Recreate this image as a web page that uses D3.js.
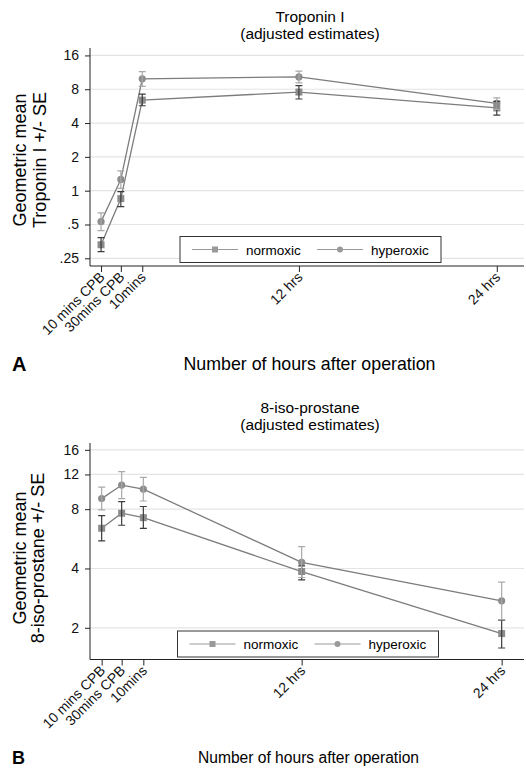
<!DOCTYPE html>
<html>
<head>
<meta charset="utf-8">
<script src="https://cdn.jsdelivr.net/npm/d3@7"></script>
<style>
  body { margin: 0; background: #fff; }
  svg { display: block; font-family: "Liberation Sans", Arial, sans-serif; }
</style>
</head>
<body>
<script>
// time points (x position in hours, roughly as plotted)
let timeLabels = ['10 mins CPB', '30mins CPB', '10mins', '12 hrs', '24 hrs']
let timePos = [0, 1.2, 2.5, 12, 24]

// Troponin I, geometric means and +/- SE bounds
let tropNormoxic = [0.33, 0.85, 6.4, 7.55, 5.45]
let tropNormoxicLo = [0.287, 0.72, 5.7, 6.55, 4.7]
let tropNormoxicHi = [0.382, 0.98, 7.25, 8.6, 6.25]
let tropHyperoxic = [0.53, 1.26, 9.9, 10.3, 6.0]
let tropHyperoxicLo = [0.44, 1.05, 8.5, 9.1, 5.3]
let tropHyperoxicHi = [0.634, 1.5, 11.5, 11.6, 6.7]
let tropTicks = [0.25, 0.5, 1, 2, 4, 8, 16]

// 8-iso-prostane
let isoNormoxic = [6.4, 7.63, 7.24, 3.86, 1.87]
let isoNormoxicLo = [5.52, 6.63, 6.39, 3.5, 1.58]
let isoNormoxicHi = [7.42, 8.74, 8.25, 4.12, 2.19]
let isoHyperoxic = [9.05, 10.6, 10.1, 4.3, 2.74]
let isoHyperoxicLo = [7.93, 9.05, 8.8, 3.6, 2.2]
let isoHyperoxicHi = [10.35, 12.4, 11.6, 5.16, 3.41]
let isoTicks = [2, 4, 8, 12, 16]

let width = 526, height = 771
let svg = d3.select('body').append('svg').attr('width', width).attr('height', height)

function zip(vals, lo, hi) {
  return vals.map((v, i) => ({ t: timePos[i], v: v, lo: lo[i], hi: hi[i] }))
}

function fmtTick(d) {
  return d < 1 ? String(d).replace(/^0/, '') : String(d)
}

function drawPanel(p) {
  let left = 90, right = 524
  let x = d3.scaleLinear().domain(p.xDomain).range([left, right])
  let y = d3.scaleLog().base(2).domain(p.yDomain).range([p.bottom, p.top])

  let g = svg.append('g')

  // titles
  g.append('text').attr('x', 310).attr('y', p.titleY).attr('text-anchor', 'middle')
    .style('font-size', '15.5px').text(p.title)
  g.append('text').attr('x', 310).attr('y', p.titleY + 17).attr('text-anchor', 'middle')
    .style('font-size', '15.5px').text('(adjusted estimates)')

  // gridlines
  g.selectAll('.grid').data(p.ticks).enter().append('line')
    .attr('x1', left).attr('x2', right)
    .attr('y1', d => y(d)).attr('y2', d => y(d))
    .attr('stroke', '#e4e4e4').attr('stroke-width', 1.2)

  // y axis
  let ya = g.append('g').attr('transform', `translate(${left},0)`)
    .call(d3.axisLeft(y).tickValues(p.ticks).tickFormat(fmtTick).tickSize(5).tickPadding(6))
  ya.select('.domain').attr('d', `M0,${p.top}V${p.bottom}`).attr('stroke', '#222')
  ya.selectAll('.tick line').attr('stroke', '#222')
  ya.selectAll('.tick text').style('font-size', '14px').attr('fill', '#111')
  ya.attr('font-family', null)

  // x axis
  let xa = g.append('g').attr('transform', `translate(0,${p.bottom})`)
    .call(d3.axisBottom(x).tickValues(timePos).tickFormat((d, i) => timeLabels[i]).tickSize(6))
  xa.select('.domain').attr('d', `M${left},0H${right}`).attr('stroke', '#222')
  xa.selectAll('.tick line').attr('stroke', '#222')
  xa.attr('font-family', null)
  xa.selectAll('.tick text')
    .style('font-size', '14px').attr('fill', '#111')
    .attr('text-anchor', 'end').attr('dy', null)
    .attr('transform', 'translate(4,12) rotate(-45)')
    .attr('y', 0).attr('x', 0)

  // y label
  let ycy = p.yLabelY
  g.append('text').attr('transform', `translate(${p.yLabelX[0]},${ycy}) rotate(-90)`)
    .attr('text-anchor', 'middle').style('font-size', '18px').text('Geometric mean')
  g.append('text').attr('transform', `translate(${p.yLabelX[1]},${ycy}) rotate(-90)`)
    .attr('text-anchor', 'middle').style('font-size', '18px').text(p.yLabel)

  // x title and panel letter
  g.append('text').attr('x', p.xTitleX).attr('y', p.xTitleY).attr('text-anchor', 'middle')
    .style('font-size', p.xTitleSize + 'px').text('Number of hours after operation')
  g.append('text').attr('x', 12).attr('y', p.xTitleY + 1).style('font-size', p.letterSize + 'px')
    .style('font-weight', 'bold').text(p.letter)

  let line = d3.line().x(d => x(d.t)).y(d => y(d.v))

  p.series.forEach(s => {
    g.append('path').datum(s.data).attr('d', line)
      .attr('fill', 'none').attr('stroke', '#7c7c7c').attr('stroke-width', 1.3)
  })

  p.series.forEach(s => {
    let m = g.selectAll(null).data(s.data).enter()
    if (s.shape === 'square') {
      m.append('rect').attr('x', d => x(d.t) - 3.5).attr('y', d => y(d.v) - 3.5)
        .attr('width', 7).attr('height', 7).attr('fill', '#8c8c8c')
    } else {
      m.append('circle').attr('cx', d => x(d.t)).attr('cy', d => y(d.v))
        .attr('r', 3.6).attr('fill', '#8c8c8c')
    }
  })

  // error bars (+/- SE)
  p.series.forEach(s => {
    let eb = g.selectAll(null).data(s.data).enter().append('path')
      .attr('d', d => {
        let cx = x(d.t), y0 = y(d.lo), y1 = y(d.hi)
        return `M${cx},${y0}V${y1}M${cx - 3.5},${y0}H${cx + 3.5}M${cx - 3.5},${y1}H${cx + 3.5}`
      })
      .attr('fill', 'none').attr('stroke', s.errColor).attr('stroke-width', 1.2)
  })

  // legend
  let lg = g.append('g').attr('transform', `translate(${p.legend[0]},${p.legend[1]})`)
  lg.append('rect').attr('width', 261).attr('height', 26).attr('fill', '#fff')
    .attr('stroke', '#333').attr('stroke-width', 1)
  let items = [{ name: 'normoxic', shape: 'square', x0: 12 }, { name: 'hyperoxic', shape: 'circle', x0: 137 }]
  items.forEach(it => {
    lg.append('line').attr('x1', it.x0).attr('x2', it.x0 + 46).attr('y1', 13).attr('y2', 13)
      .attr('stroke', '#9a9a9a').attr('stroke-width', 1)
    if (it.shape === 'square') {
      lg.append('rect').attr('x', it.x0 + 20).attr('y', 10).attr('width', 6).attr('height', 6).attr('fill', '#999')
    } else {
      lg.append('circle').attr('cx', it.x0 + 23).attr('cy', 13).attr('r', 3).attr('fill', '#999')
    }
    lg.append('text').attr('x', it.x0 + 54).attr('y', 18).style('font-size', '13.5px').text(it.name)
  })
}

drawPanel({
  title: 'Troponin I', titleY: 21.5,
  top: 48, bottom: 266,
  xDomain: [-0.67, 25.65], yDomain: [0.2135, 18.63],
  ticks: tropTicks, yLabel: 'Troponin I +/- SE', yLabelX: [26, 45.5], yLabelY: 160,
  xTitleX: 309.5, xTitleY: 369.5, xTitleSize: 17.8, letter: 'A', letterSize: 20,
  legend: [180, 236.5],
  series: [
    { shape: 'square', errColor: '#3c3c3c', data: zip(tropNormoxic, tropNormoxicLo, tropNormoxicHi) },
    { shape: 'circle', errColor: '#a9a9a9', data: zip(tropHyperoxic, tropHyperoxicLo, tropHyperoxicHi) }
  ]
})

drawPanel({
  title: '8-iso-prostane', titleY: 413,
  top: 443, bottom: 659.5,
  xDomain: [-0.70, 25.34], yDomain: [1.381, 17.33],
  ticks: isoTicks, yLabel: '8-iso-prostane +/- SE', yLabelX: [25.5, 44], yLabelY: 558,
  xTitleX: 308.5, xTitleY: 762.5, xTitleSize: 15.6, letter: 'B', letterSize: 18,
  legend: [177.5, 631],
  series: [
    { shape: 'square', errColor: '#3c3c3c', data: zip(isoNormoxic, isoNormoxicLo, isoNormoxicHi) },
    { shape: 'circle', errColor: '#a9a9a9', data: zip(isoHyperoxic, isoHyperoxicLo, isoHyperoxicHi) }
  ]
})
</script>
</body>
</html>
